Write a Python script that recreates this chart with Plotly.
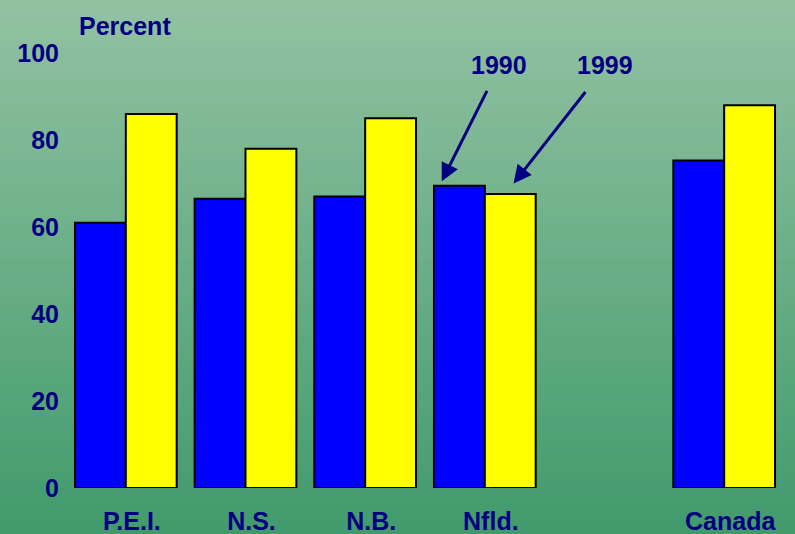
import plotly.graph_objects as go

# ---- data ----
categories = ["P.E.I.", "N.S.", "N.B.", "Nfld.", "Canada"]
cat_pos = [0, 1, 2, 3, 5]
values_1990 = [61, 66.5, 67, 69.5, 75.3]
values_1999 = [86, 78, 85, 67.6, 88]
y_ticks = [0, 20, 40, 60, 80, 100]

NAVY = "#000080"
FONT = dict(family="Liberation Sans, Arial, sans-serif", size=25, color=NAVY, weight="bold")

fig = go.Figure()
fig.add_trace(go.Bar(x=cat_pos, y=values_1990, name="1990",
                     marker=dict(color="#0000ff", line=dict(color="#000000", width=2))))
fig.add_trace(go.Bar(x=cat_pos, y=values_1999, name="1999",
                     marker=dict(color="#ffff00", line=dict(color="#000000", width=2))))

# vertical gradient background
top = (152, 196, 166)
bot = (62, 153, 107)
n = 80
shapes = []
for i in range(n):
    t = i / (n - 1)
    c = tuple(round(top[k] + (bot[k] - top[k]) * t) for k in range(3))
    y1 = 1.2 - i * (1.35 / n)
    y0 = y1 - 1.35 / n - 0.005
    shapes.append(dict(type="rect", xref="paper", yref="paper", x0=-0.2, x1=1.2,
                       y0=y0, y1=y1, fillcolor="rgb(%d,%d,%d)" % c,
                       line=dict(width=0), layer="below"))

annotations = [
    dict(text="Percent", xref="paper", yref="paper", x=0.082, y=1.063, showarrow=False,
         font=FONT, xanchor="center", yanchor="middle"),
    dict(text="1990", xref="x", yref="paper", x=3.12, y=0.972, showarrow=False,
         font=FONT, xanchor="center", yanchor="middle"),
    dict(text="1999", xref="x", yref="paper", x=4.0, y=0.972, showarrow=False,
         font=FONT, xanchor="center", yanchor="middle"),
    dict(text="", x=2.64, y=70.5, xref="x", yref="y", ax=46, ay=-92, axref="pixel", ayref="pixel",
         showarrow=True, arrowhead=2, arrowsize=1.2, arrowwidth=3, arrowcolor=NAVY),
    dict(text="", x=3.24, y=70.0, xref="x", yref="y", ax=73, ay=-93, axref="pixel", ayref="pixel",
         showarrow=True, arrowhead=2, arrowsize=1.2, arrowwidth=3, arrowcolor=NAVY),
]

fig.update_layout(
    width=795, height=534,
    margin=dict(l=66, r=11, t=53, b=46),
    paper_bgcolor="#6aad88", plot_bgcolor="rgba(0,0,0,0)",
    barmode="group", bargap=0.15, bargroupgap=0,
    showlegend=False,
    shapes=shapes, annotations=annotations,
    font=FONT,
)
fig.update_xaxes(range=[-0.5, 5.5], tickvals=cat_pos, ticktext=categories,
                 showgrid=False, zeroline=False, showline=False, ticks="",
                 tickfont=FONT, ticklabelstandoff=16, ticklabelshift=6, automargin=False)
fig.update_yaxes(range=[0, 100], tickvals=y_ticks, showgrid=False, zeroline=False,
                 showline=False, ticks="", tickfont=FONT, ticklabelstandoff=6, automargin=False)

fig.write_html("out.html", config={"displayModeBar": False},
               post_script="document.body.style.margin='0';")
